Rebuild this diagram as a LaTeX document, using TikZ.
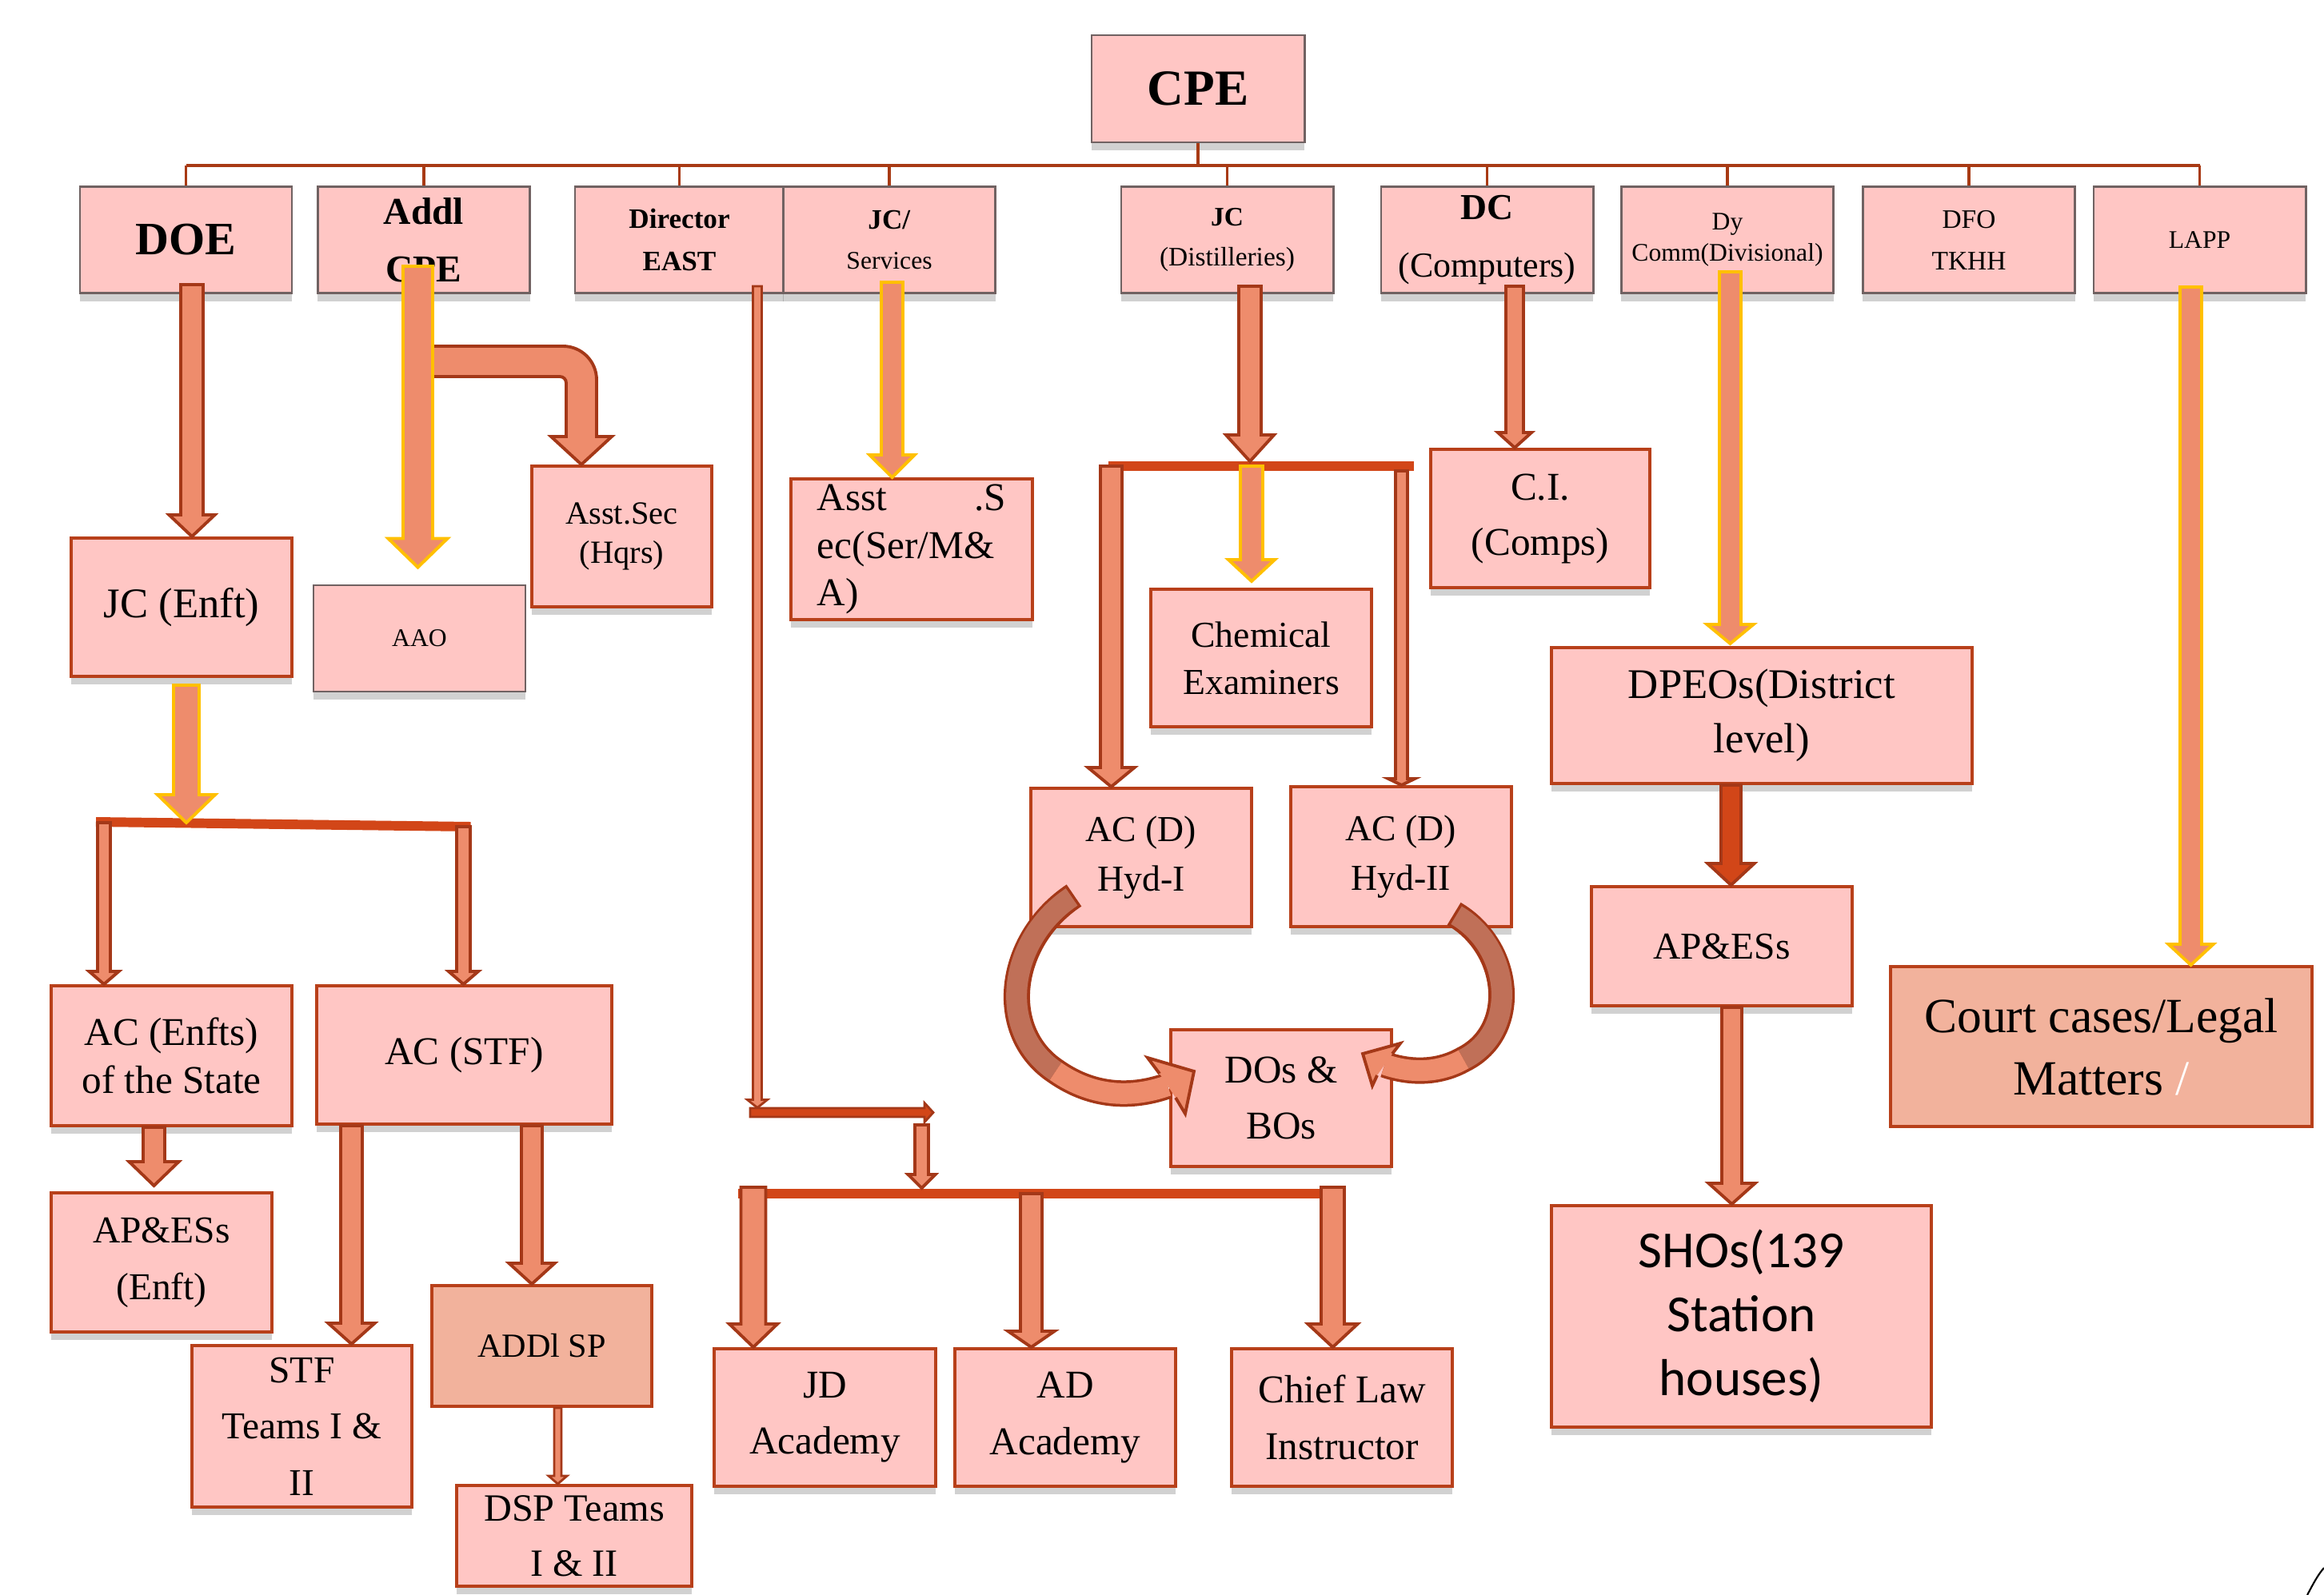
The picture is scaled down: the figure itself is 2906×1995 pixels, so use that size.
\documentclass[tikz,border=0pt]{standalone}
\usepackage{fontspec}
\setmainfont{Liberation Serif}
\newfontfamily\shosfont{Carlito}
\usepackage{xcolor}
\usetikzlibrary{calc,shadows}
\definecolor{boxpink}{RGB}{255,198,196}
\definecolor{boxsalmon}{RGB}{242,178,156}
\definecolor{arrowfill}{RGB}{238,140,108}
\definecolor{arrowline}{RGB}{164,56,24}
\definecolor{boxline}{RGB}{184,64,26}
\definecolor{topgray}{RGB}{112,98,98}
\definecolor{busred}{RGB}{168,58,20}
\definecolor{barred}{RGB}{210,70,24}
\definecolor{gold}{RGB}{255,192,0}
\definecolor{curveback}{RGB}{192,112,88}

\newcommand{\fsz}[2]{\fontsize{#1}{#2}\selectfont}
% block arrow: start point, target (tip height), shaft width, head width, head length (px)
\newcommand{\blockarrow}[6][barrow]{%
  \draw[#1] let \p1=(#2), \p2=(#3) in
    (\x1-#4*0.005cm,\y1) -- (\x1-#4*0.005cm,\y2+#6*0.01cm) -- (\x1-#5*0.005cm,\y2+#6*0.01cm)
    -- (\x1,\y2) -- (\x1+#5*0.005cm,\y2+#6*0.01cm) -- (\x1+#4*0.005cm,\y2+#6*0.01cm)
    -- (\x1+#4*0.005cm,\y1) -- cycle;}

\tikzset{
  sz/.style 2 args={minimum width=#1cm, minimum height=#2cm},
  boxbase/.style={fill=boxpink, inner sep=1pt, align=center},
  shade/.style={drop shadow={shadow xshift=0pt, shadow yshift=-0.1cm, opacity=0.3, fill=black!60}},
  topbox/.style={boxbase, shade, draw=topgray, line width=0.8pt, sz={2.65}{1.33}},
  orgbox/.style={boxbase, shade, draw=boxline, line width=1.1pt},
  legalbox/.style={boxbase, draw=boxline, line width=1.1pt, fill=boxsalmon},
  barrow/.style={fill=arrowfill, draw=arrowline, line width=1.1pt},
  yarrow/.style={barrow, draw=gold},
  darrow/.style={barrow, fill=barred},
  thinarrow/.style={barrow, line width=0.8pt},
  topbus/.style={draw=busred, line width=1.4pt},
  topdrop/.style={draw=busred, line width=0.9pt},
  lowbus/.style={draw=barred, line width=3.4pt},
  bandedge/.style={draw=arrowline, line width=0.33cm},
  bandback/.style={draw=curveback, line width=0.26cm},
  bandfront/.style={draw=arrowfill, line width=0.26cm},
}

\begin{document}
\begin{tikzpicture}[x=0.01cm, y=-0.01cm]
  \useasboundingbox (0,0) rectangle (2906,1995);

  % top level
  \node[topbox, sz={2.66}{1.34}, font=\bfseries\fsz{18}{20}] (cpe) at (1498,111) {CPE};
  \node[topbox, font=\bfseries\fsz{16.5}{20}] (doe) at (232.5,300) {DOE};
  \node[topbox, font=\bfseries\fsz{13.5}{20.5}] (addl) at (530,300) {Addl\\CPE};
  \node[topbox, sz={2.61}{1.33}, font=\bfseries\fsz{10}{14.8}] (direast) at (849.5,300) {Director\\EAST};
  \node[topbox, font=\fsz{9}{14.2}] (jcserv) at (1112,300) {\textbf{\fsz{10}{14.2}JC/}\\Services};
  \node[topbox, font=\fsz{9.5}{14.2}] (jcdist) at (1534.5,300) {\textbf{JC}\\(Distilleries)};
  \node[topbox, font=\fsz{12.5}{20.5}] (dc) at (1859.5,300) {\textbf{\fsz{13}{20.5}DC}\\(Computers)};
  \node[topbox, font=\fsz{9}{11.1}] (dycomm) at (2160,300) {Dy\\Comm(Divisional)};
  \node[topbox, font=\fsz{9.5}{14.8}] (dfo) at (2462,300) {DFO\\TKHH};
  \node[topbox, font=\fsz{9}{11}] (lapp) at (2750.5,300) {LAPP};

  % bus under CPE
  \coordinate (busy) at (0,207);
  \draw[topdrop] (cpe.south) -- (cpe.south |- busy);
  \draw[topdrop] (doe.north |- busy) -- (addl.north |- busy);
  \draw[topbus] (addl.north |- busy) -- (dfo.north |- busy);
  \draw[topdrop] (dfo.north |- busy) -- (lapp.north |- busy);
  \foreach \n in {doe,addl,direast,jcserv,jcdist,dc,dycomm,dfo,lapp}
    \draw[topdrop] (\n.north |- busy) -- (\n.north);

  % second level
  \node[orgbox, sz={2.76}{1.73}, font=\fsz{15}{18}] (jcenft) at (227,759.5) {JC (Enft)};
  \node[topbox, font=\fsz{9}{11}] (aao) at (524.5,798.5) {AAO};
  \node[orgbox, sz={2.25}{1.76}, font=\fsz{11.5}{14}] (asstsec) at (777.5,671) {Asst.Sec\\(Hqrs)};
  \node[orgbox, sz={3.02}{1.76}, text width=2.36cm, align=left, font=\fsz{14}{16.8}] (asstser) at (1140,687) {Asst\hfill.S\\ec(Ser/M\&\\A)};
  \node[orgbox, sz={2.76}{1.72}, font=\fsz{13}{16.8}] (chemex) at (1577,823) {Chemical\\Examiners};
  \node[orgbox, sz={2.76}{1.73}, font=\fsz{13}{17.4}] (acdone) at (1427,1072.5) {AC (D)\\Hyd-I};
  \node[orgbox, sz={2.76}{1.75}, font=\fsz{13}{17.4}] (acdtwo) at (1752,1071.5) {AC (D)\\Hyd-II};
  \node[orgbox, sz={2.76}{1.71}, font=\fsz{14}{20}] (dosbos) at (1602,1373.5) {DOs \&\\BOs};
  \node[orgbox, sz={2.74}{1.73}, font=\fsz{14}{19.6}] (ci) at (1926,648.5) {C.I.\\(Comps)};
  \node[orgbox, sz={5.26}{1.70}, font=\fsz{15}{19.4}] (dpeos) at (2203,895) {DPEOs(District\\level)};
  \node[orgbox, sz={3.26}{1.49}, font=\fsz{13.5}{16}] (apes) at (2153,1183.5) {AP\&ESs};
  \node[orgbox, sz={4.75}{2.77}, font=\shosfont\fsz{18.5}{22.8}] (shos) at (2177.5,1646.5) {SHOs(139\\Station\\houses)};
  \node[legalbox, sz={5.27}{2.00}, font=\fsz{17.5}{22.2}] (court) at (2627.5,1309) {Court cases/Legal\\Matters \textcolor{white}{/}};

  % enforcement wing
  \node[orgbox, sz={3.01}{1.75}, font=\fsz{14}{17}] (acenfts) at (214.5,1320.5) {AC (Enfts)\\of the State};
  \node[orgbox, sz={3.69}{1.73}, font=\fsz{14}{17}] (acstf) at (580.5,1319.5) {AC (STF)};
  \node[orgbox, sz={2.76}{1.74}, font=\fsz{13.5}{20.2}] (apesenft) at (202,1579) {AP\&ESs\\(Enft)};
  \node[orgbox, sz={2.75}{2.02}, font=\fsz{13.5}{20}] (stf) at (377.5,1784) {STF\\Teams I \&\\II};
  \node[legalbox, sz={2.75}{1.51}, font=\fsz{12}{14}] (addlsp) at (677.5,1683.5) {ADDl SP};
  \node[orgbox, sz={2.94}{1.26}, font=\fsz{13.7}{19.6}] (dsp) at (718,1921) {DSP Teams\\I \& II};

  % academy
  \node[orgbox, sz={2.77}{1.72}, font=\fsz{14}{20}] (jdacad) at (1031.5,1773) {JD\\Academy};
  \node[orgbox, sz={2.76}{1.72}, font=\fsz{14}{20}] (adacad) at (1332,1773) {AD\\Academy};
  \node[orgbox, sz={2.76}{1.72}, font=\fsz{14}{20}] (chief) at (1678,1773) {Chief Law\\Instructor};

  % bars
  \coordinate (enftl) at (130,1029);
  \coordinate (enftr) at (579.5,1034);
  \draw[lowbus] ($(enftl)+(-10,-1)$) -- ($(enftr)+(9,0)$);
  \coordinate (distl) at (1389.5,583);
  \coordinate (distm) at (1565,583);
  \coordinate (distr) at (1752.5,589);
  \draw[lowbus] ($(distl)+(-4,0)$) -- ($(distr)+(15,-6)$);
  \coordinate (acadl) at (942,1493);
  \coordinate (acadm) at (1289.5,1493);
  \coordinate (acadr) at (1666.5,1493);
  \draw[lowbus] ($(acadl)+(-19,0)$) -- ($(acadr)+(13,0)$);

  % bent arrow to Asst.Sec
  \draw[barrow] (535,433) [rounded corners=0.42cm] -- (746,433) [sharp corners] -- (746,546)
    -- (765,546) -- (asstsec.north -| 727,0) -- (689,546) -- (708,546)
    [rounded corners=0.08cm] -- (708,471) [sharp corners] -- (535,471) -- cycle;

  % arrows
  \blockarrow{$(doe.south)+(7.5,-12)$}{jcenft.north}{28}{57}{27}
  \blockarrow[yarrow]{$(addl.south)+(-7.5,-35)$}{$(aao.north)+(0,-21)$}{37}{74}{36}
  \blockarrow[yarrow]{$(jcenft.south)+(6,9)$}{enftl}{32}{72}{35}
  \blockarrow{enftl}{acenfts.north}{16}{37}{16}
  \blockarrow{enftr}{acstf.north}{17}{37}{16}
  \blockarrow{$(acenfts.south)+(-22,0)$}{$(apesenft.north)+(0,-7)$}{27}{62}{30}
  \blockarrow{$(acstf.south)+(-141,0)$}{stf.north}{27}{58}{26}
  \blockarrow{$(acstf.south)+(84.5,0)$}{addlsp.north}{26}{57}{26}
  \blockarrow[thinarrow]{$(addlsp.south)+(20,0)$}{dsp.north}{9}{23}{10}
  \blockarrow[yarrow]{$(jcserv.south)+(3.5,-15)$}{asstser.north}{27}{56}{28}
  \blockarrow{$(jcdist.south)+(28.5,-10)$}{$(distm)+(0,-6)$}{28}{60}{33}
  \blockarrow{distl}{acdone.north}{27}{58}{24}
  \blockarrow[yarrow]{distm}{$(chemex.north)+(0,-8)$}{28}{58}{27}
  \blockarrow{distr}{acdtwo.north}{15}{33}{8}
  \blockarrow{$(dc.south)+(34.5,-10)$}{ci.north}{22}{42}{19}
  \blockarrow[yarrow]{$(dycomm.south)+(3.5,-28)$}{$(dpeos.north)+(0,-3)$}{27}{58}{24}
  \blockarrow[darrow]{$(dpeos.south)+(-38.5,0)$}{apes.north}{25}{58}{27}
  \blockarrow{$(apes.south)+(12.5,0)$}{shos.north}{25}{58}{26}
  \blockarrow[yarrow]{$(lapp.south)+(-11,-9)$}{court.north}{27}{56}{26}

  % Director EAST route to the academy
  \coordinate (eastturn) at (947,1391.5);
  \coordinate (eastend) at (1167,1391.5);
  \blockarrow[thinarrow]{$(direast.south)+(97.5,-10)$}{$(eastturn)+(0,-6)$}{11}{25}{10}
  \draw[thinarrow, fill=barred] let \p1=($(eastturn)+(-9,0)$), \p2=(eastend) in
    (\x1,\y1+0.055cm) -- (\x2-0.11cm,\y1+0.055cm) -- (\x2-0.11cm,\y1+0.12cm) -- (\x2,\y1)
    -- (\x2-0.11cm,\y1-0.12cm) -- (\x2-0.11cm,\y1-0.055cm) -- (\x1,\y1-0.055cm) -- cycle;
  \blockarrow{$(eastend)+(-14.5,15.5)$}{$(acadl)+(0,-7)$}{17}{34}{17}
  \blockarrow{$(acadl)+(0,-8)$}{jdacad.north}{31}{60}{29}
  \blockarrow{acadm}{adacad.north}{27}{58}{20}
  \blockarrow{$(acadr)+(0,-8)$}{chief.north}{29}{62}{29}

  % curved arrows to DOs & BOs
  \draw[bandedge] (1343,1120) .. controls (1260,1175) and (1245,1290) .. (1320,1340)
    .. controls (1370,1375) and (1420,1372) .. (1460,1358);
  \draw[bandback, shorten <=0.035cm] (1343,1120) .. controls (1260,1175) and (1245,1290) .. (1320,1340);
  \draw[bandfront] (1320,1340) .. controls (1370,1375) and (1420,1372) .. (1460,1358);
  \fill[arrowfill] (1450,1343) -- (1435,1323) -- (1493,1340) -- (1482,1393) -- (1470,1373) -- cycle;
  \draw[draw=arrowline, line width=1.1pt, line join=miter] (1450,1343) -- (1435,1323) -- (1493,1340) -- (1482,1393) -- (1470,1373);

  \draw[bandedge] (1818,1143) .. controls (1890,1185) and (1900,1290) .. (1830,1325)
    .. controls (1800,1342) and (1765,1343) .. (1731.5,1331.5);
  \draw[bandback, shorten <=0.035cm] (1818,1143) .. controls (1890,1185) and (1900,1290) .. (1830,1325);
  \draw[bandfront] (1830,1325) .. controls (1800,1342) and (1765,1343) .. (1731.5,1331.5);
  \fill[arrowfill] (1741,1318) -- (1751,1305) -- (1704,1318) -- (1716,1358) -- (1722,1345) -- cycle;
  \draw[draw=arrowline, line width=1.1pt, line join=miter] (1741,1318) -- (1751,1305) -- (1704,1318) -- (1716,1358) -- (1722,1345);

  % corner mark
  \draw[line width=0.6pt] (2885,1995) .. controls (2892,1982) and (2898,1970) .. (2906,1961);
\end{tikzpicture}
\end{document}
